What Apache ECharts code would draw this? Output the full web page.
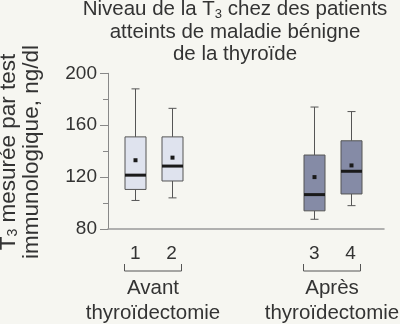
<!DOCTYPE html>
<html>
<head>
<meta charset="utf-8">
<script src="https://cdn.jsdelivr.net/npm/echarts@6/dist/echarts.min.js"></script>
<style>
  html, body { margin: 0; padding: 0; background: #f6f6f1; }
  #chart { width: 400px; height: 324px; }
</style>
</head>
<body>
<div id="chart"></div>
<script>
// T3 levels (ng/dl) for four patient groups, before and after thyroidectomy
const groups = ['1', '2', '3', '4'];
const lowWhisker = [102, 104, 87.5, 98];
const quartile1 = [110.5, 117, 94, 107];
const medians = [121.5, 128.5, 106.5, 124.5];
const quartile3 = [151, 151, 137, 148];
const highWhisker = [188, 173, 174, 170.5];
const means = [133, 135, 120, 129];
const yTicks = [80, 120, 160, 200];

// horizontal slots along the group axis (two pairs separated by a gap)
const slots = [0.75, 1.75, 5.68, 6.68];
const boxFill = ['#dfe3ee', '#dfe3ee', '#858ba6', '#858ba6'];
const FONT = '"Liberation Sans", Arial, sans-serif';
const INK = '#333';

const boxData = groups.map((g, i) => [
  slots[i], lowWhisker[i], quartile1[i], medians[i], quartile3[i], highWhisker[i], means[i], i
]);

const chart = echarts.init(document.getElementById('chart'), null, { renderer: 'canvas' });

chart.setOption({
  backgroundColor: '#f6f6f1',
  animation: false,
  textStyle: { fontFamily: FONT },
  grid: { left: 108, right: 16, top: 73.3, bottom: 95, containLabel: false },
  xAxis: {
    type: 'value',
    min: 0,
    max: 7.6,
    splitLine: { show: false },
    axisTick: { show: false },
    axisLine: { show: true, lineStyle: { color: '#999', width: 1.5 } },
    axisLabel: {
      customValues: slots,
      formatter: (v) => groups[slots.indexOf(v)],
      fontSize: 19,
      color: INK,
      margin: 15,
      fontFamily: FONT
    }
  },
  yAxis: {
    type: 'value',
    min: yTicks[0],
    max: yTicks[yTicks.length - 1],
    interval: 40,
    splitLine: { show: false },
    axisLine: { show: true, lineStyle: { color: '#888', width: 1 } },
    axisTick: { show: true, length: 8, lineStyle: { color: '#888' } },
    minorTick: { show: true, splitNumber: 2, length: 5, lineStyle: { color: '#888' } },
    axisLabel: { fontSize: 19, color: INK, margin: 11, fontFamily: FONT }
  },
  series: [{
    type: 'custom',
    data: boxData,
    encode: { x: 0, y: [1, 2, 3, 4, 5, 6] },
    renderItem: (params, api) => {
      const x = api.value(0);
      const idx = api.value(7);
      const at = (dim) => api.coord([x, api.value(dim)]);
      const lo = at(1), q1 = at(2), md = at(3), q3 = at(4), hi = at(5), mn = at(6);
      const cx = Math.round(lo[0]) + 0.5;
      const half = 10.5, cap = 4, sq = 4;
      const line = (x1, y1, x2, y2, stroke, w) => ({
        type: 'line',
        shape: { x1, y1, x2, y2 },
        style: { stroke, lineWidth: w }
      });
      return {
        type: 'group',
        children: [
          line(cx, q3[1], cx, hi[1], '#555', 1),
          line(cx, q1[1], cx, lo[1], '#555', 1),
          line(cx - cap, hi[1], cx + cap, hi[1], '#555', 1),
          line(cx - cap, lo[1], cx + cap, lo[1], '#555', 1),
          {
            type: 'rect',
            shape: { x: cx - half, y: q3[1], width: half * 2, height: q1[1] - q3[1] },
            style: { fill: boxFill[idx], stroke: '#555', lineWidth: 1 }
          },
          line(cx - half, md[1], cx + half, md[1], '#1a1a1a', 3),
          {
            type: 'rect',
            shape: { x: cx - sq / 2, y: mn[1] - sq / 2, width: sq, height: sq },
            style: { fill: '#1a1a1a' }
          }
        ]
      };
    }
  }],
  graphic: [
    {
      type: 'text',
      x: 235, y: -1.5,
      style: {
        x: 0, y: 0,
        text: 'Niveau de la T{sub|3} chez des patients\natteints de maladie bénigne\nde la thyroïde',
        align: 'center',
        fontSize: 20.5,
        lineHeight: 22.5,
        fontFamily: FONT,
        fill: INK,
        rich: {
          sub: { fontSize: 13, fontFamily: FONT, fill: INK, verticalAlign: 'bottom', lineHeight: 22.5, padding: [10, 0, 0, 0] }
        }
      }
    },
    {
      type: 'text',
      x: 20.5, y: 152,
      rotation: Math.PI / 2,
      style: {
        x: 0, y: 0,
        text: 'T{sub|3} mesurée par test\nimmunologique, ng/dl',
        align: 'center',
        verticalAlign: 'middle',
        fontSize: 22.5,
        lineHeight: 22.6,
        fontFamily: FONT,
        fill: INK,
        rich: {
          sub: { fontSize: 14, fontFamily: FONT, fill: INK, verticalAlign: 'bottom', lineHeight: 22.6, padding: [10, 0, 0, 0] }
        }
      }
    },
    {
      type: 'polyline',
      shape: { points: [[124.5, 264], [124.5, 271], [181.5, 271], [181.5, 264]] },
      style: { stroke: '#555', lineWidth: 1, fill: null }
    },
    {
      type: 'polyline',
      shape: { points: [[303.5, 264], [303.5, 271], [360.5, 271], [360.5, 264]] },
      style: { stroke: '#555', lineWidth: 1, fill: null }
    },
    {
      type: 'text',
      x: 153, y: 275.5,
      style: {
        text: 'Avant\nthyroïdectomie', align: 'center', fontSize: 20.5, lineHeight: 25,
        fontFamily: FONT, fill: INK
      }
    },
    {
      type: 'text',
      x: 332, y: 275.5,
      style: {
        text: 'Après\nthyroïdectomie', align: 'center', fontSize: 20.5, lineHeight: 25,
        fontFamily: FONT, fill: INK
      }
    }
  ]
});
</script>
</body>
</html>
